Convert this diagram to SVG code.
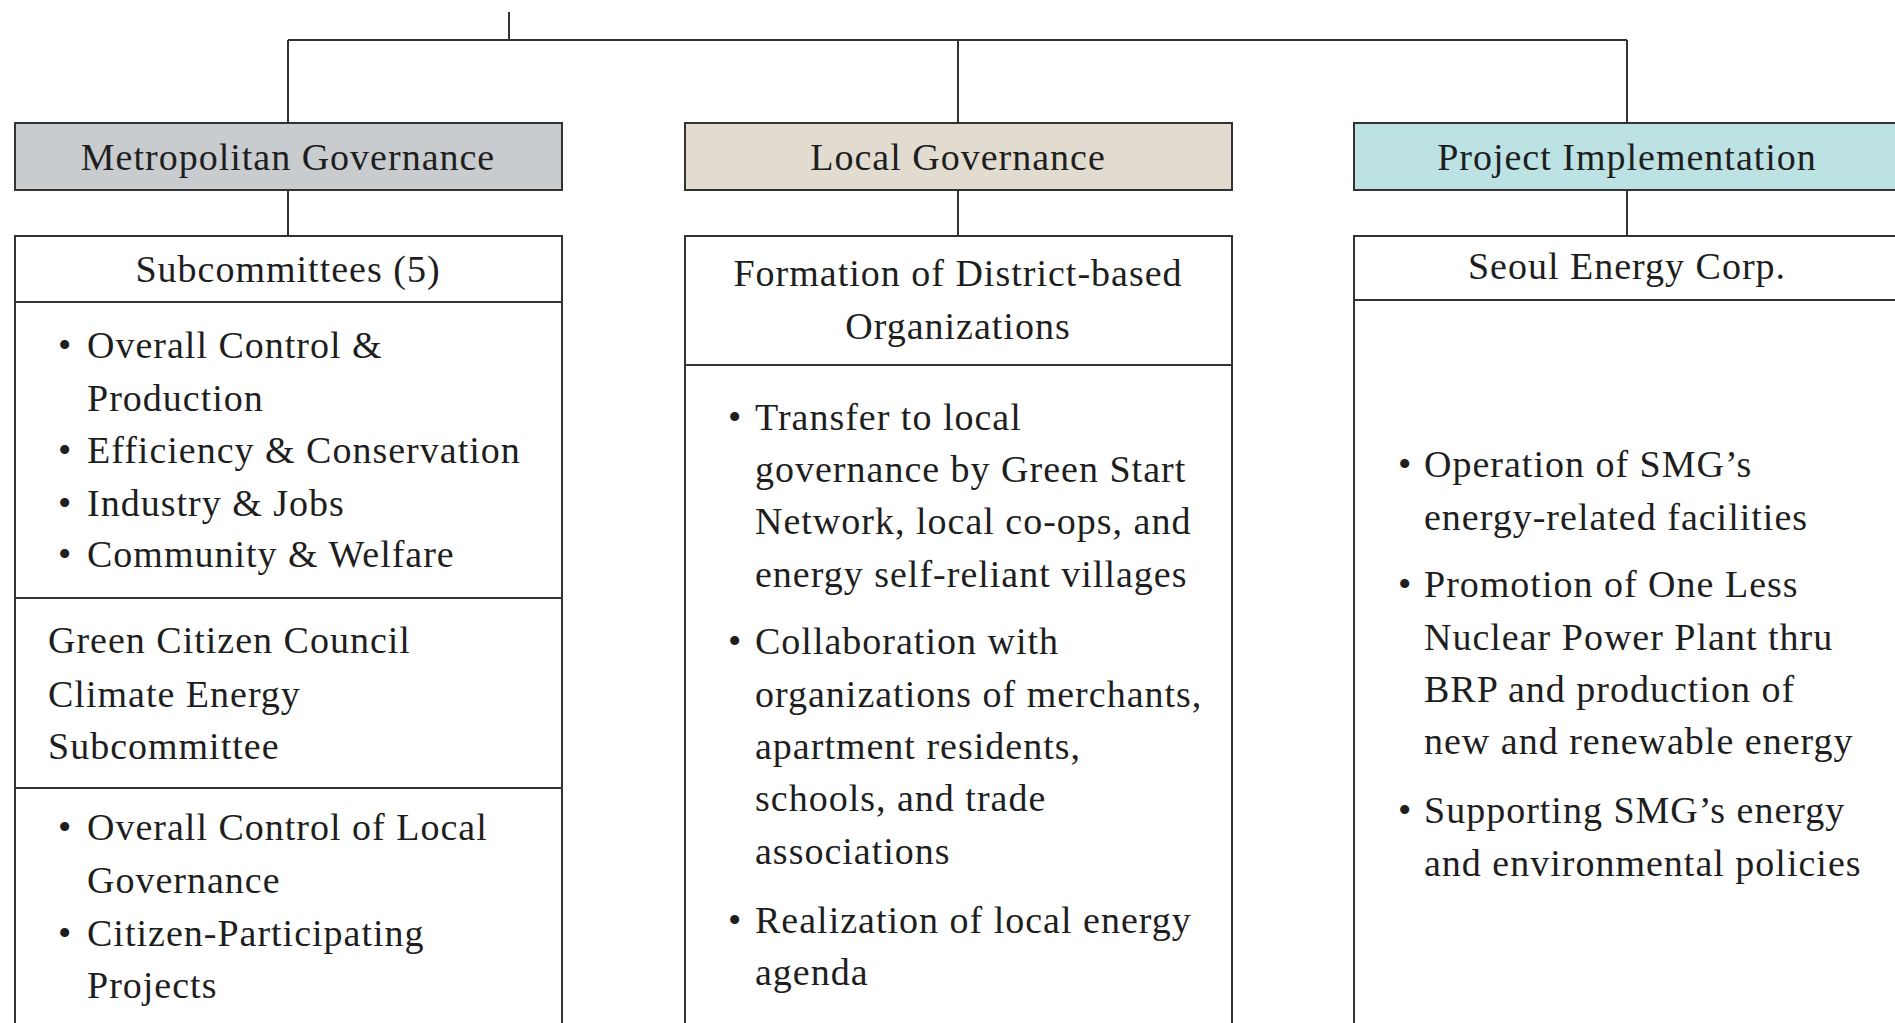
<svg xmlns="http://www.w3.org/2000/svg" width="1895" height="1023" viewBox="0 0 1895 1023">
<style>
.ln{stroke:#333;stroke-width:2;fill:none}
.box{stroke:#333;stroke-width:2}
.t{font-family:"Liberation Serif","Times New Roman",serif;font-size:38px;letter-spacing:1px;fill:#1e1e1e}
.c{text-anchor:middle}
</style>
<rect width="1895" height="1023" fill="#fff"/>
<g id="connectors">
<path class="ln" d="M509 12V40M288 40H1627M288 40V123M958 40V123M1627 40V123M288 190V236M958 190V236M1627 190V236"/>
</g>
<g id="metropolitan">
<rect class="box" x="15" y="123" width="547" height="67" fill="#c9ccce"/>
<text class="t c" x="288" y="170">Metropolitan Governance</text>
<rect class="box" x="15" y="236" width="547" height="820" fill="#fff"/>
<path class="ln" d="M15 302H563M15 598H563M15 788H563"/>
<text class="t c" x="288" y="282">Subcommittees (5)</text>
<g class="t">
<text x="58" y="358">•</text><text x="87" y="358">Overall Control &amp;</text>
<text x="87" y="411">Production</text>
<text x="58" y="463">•</text><text x="87" y="463">Efficiency &amp; Conservation</text>
<text x="58" y="516">•</text><text x="87" y="516">Industry &amp; Jobs</text>
<text x="58" y="567">•</text><text x="87" y="567">Community &amp; Welfare</text>
<text x="48" y="653">Green Citizen Council</text>
<text x="48" y="707">Climate Energy</text>
<text x="48" y="759">Subcommittee</text>
<text x="58" y="840">•</text><text x="87" y="840">Overall Control of Local</text>
<text x="87" y="893">Governance</text>
<text x="58" y="946">•</text><text x="87" y="946">Citizen-Participating</text>
<text x="87" y="998">Projects</text>
</g>
</g>
<g id="local">
<rect class="box" x="685" y="123" width="547" height="67" fill="#e2dcd0"/>
<text class="t c" x="958" y="170">Local Governance</text>
<rect class="box" x="685" y="236" width="547" height="820" fill="#fff"/>
<path class="ln" d="M685 365H1232"/>
<text class="t c" x="958" y="286">Formation of District-based</text>
<text class="t c" x="958" y="339">Organizations</text>
<g class="t">
<text x="728" y="430">•</text><text x="755" y="430">Transfer to local</text>
<text x="755" y="482">governance by Green Start</text>
<text x="755" y="534">Network, local co-ops, and</text>
<text x="755" y="587">energy self-reliant villages</text>
<text x="728" y="654">•</text><text x="755" y="654">Collaboration with</text>
<text x="755" y="707">organizations of merchants,</text>
<text x="755" y="759">apartment residents,</text>
<text x="755" y="811">schools, and trade</text>
<text x="755" y="864">associations</text>
<text x="728" y="933">•</text><text x="755" y="933">Realization of local energy</text>
<text x="755" y="985">agenda</text>
</g>
</g>
<g id="project">
<rect class="box" x="1354" y="123" width="560" height="67" fill="#bce2e4"/>
<text class="t c" x="1627" y="170">Project Implementation</text>
<rect class="box" x="1354" y="236" width="560" height="820" fill="#fff"/>
<path class="ln" d="M1354 300H1914"/>
<text class="t c" x="1627" y="279">Seoul Energy Corp.</text>
<g class="t">
<text x="1398" y="477">•</text><text x="1424" y="477">Operation of SMG’s</text>
<text x="1424" y="530">energy-related facilities</text>
<text x="1398" y="597">•</text><text x="1424" y="597">Promotion of One Less</text>
<text x="1424" y="650">Nuclear Power Plant thru</text>
<text x="1424" y="702">BRP and production of</text>
<text x="1424" y="754">new and renewable energy</text>
<text x="1398" y="823">•</text><text x="1424" y="823">Supporting SMG’s energy</text>
<text x="1424" y="876">and environmental policies</text>
</g>
</g>
</svg>
